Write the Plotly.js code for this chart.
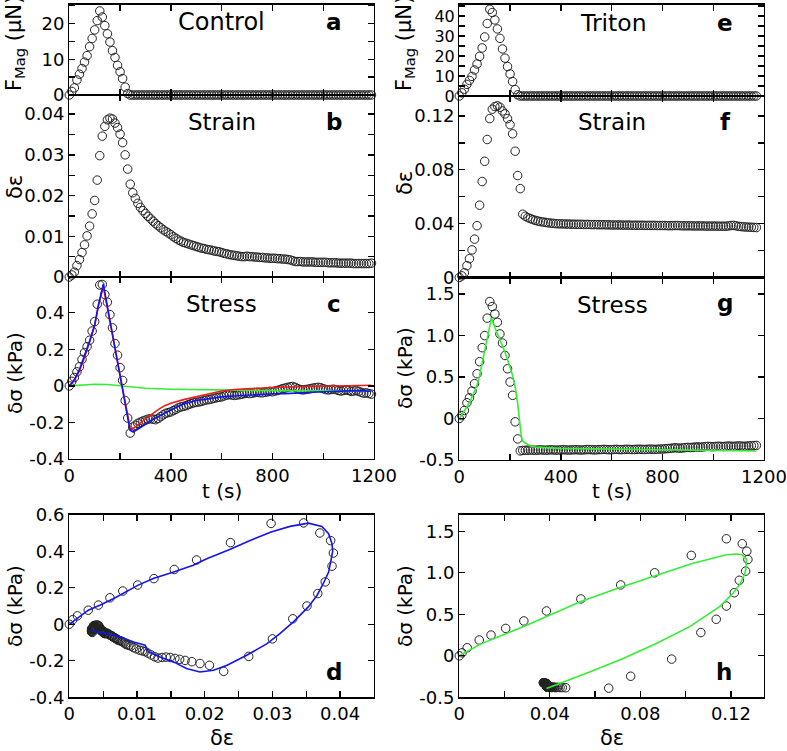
<!DOCTYPE html>
<html><head><meta charset="utf-8">
<script src="https://cdn.plot.ly/plotly-3.0.1.min.js"></script>
<style>html,body{margin:0;padding:0;background:#fff}#plot{width:787px;height:751px}</style>
</head><body><div id="plot"></div>
<script>
// ---------- Control (left column) ----------
const tC = [0,10,20,30,40,50,60,70,80,90,100,110,120,130,140,150,160,170,180,190,200,210,220,230,240,250,260,270,280,290,300,310,320,330,340,350,360,370,380,390,400,410,420,430,440,450,460,470,480,490,500,510,520,530,540,550,560,570,580,590,600,610,620,630,640,650,660,670,680,690,700,710,720,730,740,750,760,770,780,790,800,810,820,830,840,850,860,870,880,890,900,910,920,930,940,950,960,970,980,990,1000,1010,1020,1030,1040,1050,1060,1070,1080,1090,1100,1110,1120,1130,1140,1150,1160,1170,1180,1190];
const forceC = [0,1.0,2.0,4.2,5.8,7.4,9.2,11.0,13.5,15.8,18.2,20.8,23.5,21.8,19.4,17.1,14.8,12.4,10.5,8.3,6.5,4.6,2.2,0.4,
0,0,0,0,0,0,0,0,0,0,0,0,0,0,0,0,0,0,0,0,0,0,0,0,0,0,0,0,0,0,0,0,0,0,0,0,0,0,0,0,0,0,0,0,0,0,0,0,
0,0,0,0,0,0,0,0,0,0,0,0,0,0,0,0,0,0,0,0,0,0,0,0,0,0,0,0,0,0,0,0,0,0,0,0,0,0,0,0,0,0,0,0,0,0,0,0];
const strainC = [0,0.0005,0.0012,0.0028,0.0043,0.0060,0.0079,0.0101,0.0125,0.0155,
0.0188,0.0238,0.0298,0.0346,0.0370,0.0386,0.0390,0.0388,0.0378,0.0367,
0.0351,0.0330,0.0300,0.0265,0.0228,0.0207,0.0193,0.0181,0.0171,0.0163,
0.0156,0.0149,0.0143,0.0137,0.0131,0.0126,0.0121,0.0116,0.0112,0.0108,
0.0104,0.0099,0.0095,0.0091,0.0088,0.0085,0.0083,0.0081,0.0079,0.0077,
0.0075,0.0073,0.0071,0.0070,0.0068,0.0067,0.0066,0.0064,0.0063,0.0062,
0.0060,0.0058,0.0057,0.0055,0.0054,0.0053,0.0052,0.0051,0.0050,0.0050,
0.0051,0.0050,0.0050,0.0049,0.0049,0.0048,0.0048,0.0047,0.0047,0.0046,
0.0046,0.0046,0.0045,0.0045,0.0044,0.0044,0.0043,0.0042,0.0040,0.0038,
0.0038,0.0038,0.0037,0.0037,0.0037,0.0037,0.0037,0.0036,0.0036,0.0036,
0.0036,0.0036,0.0035,0.0035,0.0035,0.0035,0.0034,0.0034,0.0034,0.0034,
0.0034,0.0034,0.0033,0.0033,0.0033,0.0033,0.0033,0.0033,0.0033,0.0034];
const stressC = [0,0.025,0.046,0.077,0.105,0.145,0.182,0.215,0.25,0.3,
0.352,0.447,0.552,0.555,0.5,0.458,0.39,0.318,0.232,0.168,
0.1,0.03,-0.08,-0.176,-0.258,-0.225,-0.215,-0.205,-0.198,-0.192,
-0.187,-0.182,-0.18,-0.182,-0.185,-0.178,-0.168,-0.158,-0.15,-0.146,
-0.142,-0.135,-0.128,-0.12,-0.115,-0.112,-0.108,-0.102,-0.097,-0.093,
-0.09,-0.088,-0.085,-0.08,-0.077,-0.075,-0.072,-0.068,-0.065,-0.062,
-0.06,-0.055,-0.05,-0.048,-0.05,-0.052,-0.05,-0.048,-0.045,-0.042,
-0.04,-0.042,-0.04,-0.037,-0.035,-0.037,-0.038,-0.035,-0.033,-0.03,
-0.032,-0.028,-0.025,-0.02,-0.015,-0.012,-0.008,-0.005,-0.003,-0.008,
-0.015,-0.02,-0.022,-0.02,-0.018,-0.015,-0.012,-0.01,-0.008,-0.01,
-0.015,-0.02,-0.022,-0.02,-0.018,-0.02,-0.025,-0.028,-0.025,-0.022,
-0.025,-0.03,-0.028,-0.025,-0.03,-0.035,-0.04,-0.038,-0.042,-0.045];
// model curves in panel c
const tBlueC = [0,20,40,60,80,100,115,134,150,200,239,252,270,285,300,324,350,376,400,429,455,500,550,600,650,700,800,850,900,950,1000,1100,1150,1190];
const blueC  = [0,0.035,0.09,0.163,0.245,0.335,0.445,0.557,0.435,0.054,-0.243,-0.252,-0.238,-0.225,-0.21,-0.188,-0.168,-0.148,-0.132,-0.113,-0.097,-0.08,-0.068,-0.06,-0.055,-0.05,-0.043,-0.042,-0.038,-0.035,-0.032,-0.027,-0.026,-0.03];
const tRedC = [0,20,40,60,80,100,115,134,150,200,241,252,270,285,300,324,350,376,400,450,500,550,600,650,700,750,800,900,1000,1100,1190];
const redC  = [0,0.03,0.082,0.155,0.24,0.33,0.44,0.542,0.425,0.05,-0.239,-0.232,-0.21,-0.197,-0.18,-0.155,-0.13,-0.108,-0.095,-0.075,-0.058,-0.045,-0.028,-0.02,-0.015,-0.011,-0.009,-0.005,-0.002,0.001,0.004];
const tGreenC = [0,50,100,150,200,250,300,400,500,600,800,1000,1190];
const greenC  = [0,0.005,0.009,0.008,0.0,-0.008,-0.013,-0.018,-0.021,-0.023,-0.026,-0.027,-0.028];
// model loop in panel d
const loopStrainD = [0,0.0028,0.0045,0.0065,0.0101,0.0124,0.0154,0.0183,0.0203,0.0236,0.0267,0.0298,0.0326,0.0353,0.0373,0.0383,0.0388,0.0389,0.0387,0.0383,0.0375,0.0366,0.0353,0.0331,0.0311,0.0292,0.0262,0.0233,0.0213,0.0193,0.0173,0.0154,0.0134,0.0117,0.0112,0.0095,0.0075,0.0055,0.0040,0.0033];
const loopStressD = [0,0.077,0.104,0.14,0.213,0.25,0.286,0.323,0.359,0.408,0.459,0.505,0.536,0.554,0.536,0.496,0.441,0.40,0.359,0.286,0.222,0.159,0.095,0.013,-0.051,-0.106,-0.17,-0.224,-0.252,-0.261,-0.242,-0.206,-0.179,-0.151,-0.115,-0.097,-0.069,-0.051,-0.042,-0.033];

// ---------- Triton (right column) ----------
const tT = [0,10,20,30,40,50,60,70,80,90,100,110,120,130,140,150,160,170,180,190,200,210,220,230,240,250,260,270,280,290,300,310,320,330,340,350,360,370,380,390,400,410,420,430,440,450,460,470,480,490,500,510,520,530,540,550,560,570,580,590,600,610,620,630,640,650,660,670,680,690,700,710,720,730,740,750,760,770,780,790,800,810,820,830,840,850,860,870,880,890,900,910,920,930,940,950,960,970,980,990,1000,1010,1020,1030,1040,1050,1060,1070,1080,1090,1100,1110,1120,1130,1140,1150,1160,1170];
const forceT = [0,1.6,3.4,5.8,7.8,9.8,13.0,16.0,19.8,24.0,29.5,36.2,43.3,41.7,38.0,33.5,28.8,23.5,18.9,14.7,11.0,7.2,3.2,0.6,
0,0,0,0,0,0,0,0,0,0,0,0,0,0,0,0,0,0,0,0,0,0,0,0,0,0,0,0,0,0,0,0,0,0,0,0,0,0,0,0,0,0,0,0,0,0,0,
0,0,0,0,0,0,0,0,0,0,0,0,0,0,0,0,0,0,0,0,0,0,0,0,0,0,0,0,0,0,0,0,0,0,0,0,0,0,0,0,0,0,0,0,0,0,0];
const strainT = [0,0.0012,0.0035,0.0088,0.0140,0.0205,0.0285,0.0385,0.0537,0.0713,
0.0863,0.1025,0.1180,0.1250,0.1270,0.1275,0.1265,0.1237,0.1215,0.1180,
0.1135,0.1067,0.0938,0.0757,0.0660,0.0470,0.0455,0.0445,0.0437,0.0430,
0.0424,0.0419,0.0415,0.0412,0.0409,0.0406,0.0404,0.0402,0.0400,0.0399,
0.0398,0.0398,0.0397,0.0397,0.0396,0.0396,0.0395,0.0395,0.0395,0.0394,
0.0394,0.0394,0.0393,0.0393,0.0393,0.0392,0.0392,0.0392,0.0391,0.0391,
0.0390,0.0390,0.0390,0.0390,0.0389,0.0389,0.0389,0.0389,0.0388,0.0388,
0.0388,0.0388,0.0388,0.0387,0.0387,0.0387,0.0387,0.0387,0.0386,0.0386,
0.0386,0.0386,0.0385,0.0385,0.0385,0.0386,0.0386,0.0385,0.0384,0.0384,
0.0384,0.0384,0.0383,0.0383,0.0383,0.0383,0.0383,0.0382,0.0382,0.0382,
0.0382,0.0382,0.0381,0.0381,0.0381,0.0381,0.0383,0.0386,0.0387,0.0384,
0.0380,0.0378,0.0376,0.0375,0.0374,0.0373,0.0372,0.0371];
const stressT = [0,0.036,0.097,0.19,0.25,0.33,0.42,0.54,0.685,0.854,
1.0,1.21,1.41,1.35,1.26,1.16,1.02,0.91,0.76,0.6,
0.44,0.28,-0.04,-0.246,-0.39,-0.385,-0.383,-0.382,-0.38,-0.381,
-0.383,-0.38,-0.378,-0.38,-0.382,-0.38,-0.377,-0.379,-0.381,-0.38,
-0.378,-0.376,-0.378,-0.38,-0.379,-0.377,-0.376,-0.378,-0.38,-0.378,
-0.375,-0.374,-0.376,-0.378,-0.377,-0.375,-0.374,-0.372,-0.374,-0.376,
-0.375,-0.373,-0.372,-0.374,-0.375,-0.373,-0.371,-0.372,-0.374,-0.373,
-0.371,-0.37,-0.372,-0.373,-0.371,-0.369,-0.37,-0.372,-0.37,-0.368,
-0.367,-0.365,-0.362,-0.36,-0.356,-0.352,-0.355,-0.358,-0.354,-0.35,
-0.348,-0.35,-0.347,-0.344,-0.342,-0.345,-0.342,-0.338,-0.336,-0.338,
-0.34,-0.337,-0.334,-0.336,-0.338,-0.335,-0.332,-0.334,-0.336,-0.333,
-0.33,-0.332,-0.335,-0.333,-0.33,-0.328,-0.326,-0.324];
// model curve in panel g
const tGreenT = [0,10,20,30,40,50,60,70,80,90,100,110,120,127,140,150,160,170,180,190,200,210,220,230,240,245,250,258,280,300,400,500,600,700,800,900,1000,1100,1170];
const greenT  = [0,0.05,0.1,0.145,0.19,0.26,0.32,0.40,0.52,0.67,0.83,0.98,1.12,1.216,1.1,1.03,0.95,0.88,0.8,0.71,0.62,0.52,0.38,0.18,-0.1,-0.232,-0.27,-0.292,-0.33,-0.345,-0.36,-0.365,-0.37,-0.375,-0.378,-0.382,-0.385,-0.39,-0.392];
// model loop in panel h
const loopStrainH = [0,0.0094,0.029,0.04,0.0537,0.0713,0.0863,0.1025,0.118,0.1224,0.125,0.1268,0.1268,0.126,0.1238,0.1209,0.115,0.1018,0.087,0.0724,0.0576,0.0459,0.0385];
const loopStressH = [0,0.141,0.359,0.492,0.653,0.827,0.964,1.109,1.218,1.226,1.218,1.165,1.077,0.976,0.855,0.754,0.593,0.351,0.149,-0.032,-0.194,-0.315,-0.395];

// ---------- tick labels ----------
const tTicks = [0,400,800,1200], tTickText = ['0','400','800','1200'];
const fTicksC = [0,10,20], fTickTextC = ['0','10','20'];
const fTicksT = [0,10,20,30,40], fTickTextT = ['0','10','20','30','40'];
const eTicksC = [0,0.01,0.02,0.03,0.04], eTickTextC = ['0','0.01','0.02','0.03','0.04'];
const eTicksT = [0,0.04,0.08,0.12], eTickTextT = ['0','0.04','0.08','0.12'];
const sTicksC = [-0.4,-0.2,0,0.2,0.4], sTickTextC = ['-0.4','-0.2','0','0.2','0.4'];
const sTicksD = [-0.4,-0.2,0,0.2,0.4,0.6], sTickTextD = ['-0.4','-0.2','0','0.2','0.4','0.6'];
const sTicksT = [-0.5,0,0.5,1.0,1.5], sTickTextT = ['-0.5','0','0.5','1.0','1.5'];

// ---------- layout helpers ----------
const W = 787, H = 751;
const FONT = 'DejaVu Sans, sans-serif';
const xdom = (a,b) => [a/W, b/W];
const ydom = (top,bot) => [1-bot/H, 1-top/H];
const LX = xdom(69.3, 374), RX = xdom(459.3, 764);
function ax(o){
  const base = {showline:true, linecolor:'#000', linewidth:1.3, mirror:'allticks', ticks:'inside', ticklen:6, tickwidth:1.3, tickcolor:'#000',
    showgrid:false, zeroline:false, tickfont:{family:FONT, size:18, color:'#000'}, tickmode:'array', fixedrange:true};
  return Object.assign(base, o);
}
function minor(d){ return {dtick:d, ticks:'inside', ticklen:6, tickwidth:1.3, tickcolor:'#000', showgrid:false}; }

const mk = {symbol:'circle-open', size:8.5, color:'#222', line:{width:1, color:'#222'}};
function pts(x,y,xa,ya){ return {x:x, y:y, xaxis:xa, yaxis:ya, type:'scatter', mode:'markers', marker:mk, cliponaxis:false, hoverinfo:'skip'}; }
function ln(x,y,xa,ya,c){ return {x:x, y:y, xaxis:xa, yaxis:ya, type:'scatter', mode:'lines', line:{color:c, width:1.6}, hoverinfo:'skip'}; }

const BLUE = '#1414f0', RED = '#f01a1a', GREEN = '#33ee33';

const data = [
  pts(tC, forceC, 'x', 'y'),
  pts(tC, strainC, 'x2', 'y2'),
  pts(tC, stressC, 'x3', 'y3'),
  ln(tGreenC, greenC, 'x3', 'y3', GREEN),
  ln(tRedC, redC, 'x3', 'y3', RED),
  ln(tBlueC, blueC, 'x3', 'y3', BLUE),
  pts(strainC, stressC, 'x4', 'y4'),
  ln(loopStrainD, loopStressD, 'x4', 'y4', BLUE),
  pts(tT, forceT, 'x5', 'y5'),
  pts(tT, strainT, 'x6', 'y6'),
  pts(tT, stressT, 'x7', 'y7'),
  ln(tGreenT, greenT, 'x7', 'y7', GREEN),
  pts(strainT, stressT, 'x8', 'y8'),
  ln(loopStrainH, loopStressH, 'x8', 'y8', GREEN)
];

const tx = (dom, anchor, labels) => ax({domain:dom, anchor:anchor, range:[0,1200], tickvals:tTicks, ticktext:tTickText, showticklabels:labels, minor:minor(200)});

const layout = {
  width:W, height:H, margin:{l:0,r:0,t:0,b:0}, paper_bgcolor:'#fff', plot_bgcolor:'rgba(0,0,0,0)', showlegend:false,
  xaxis:  tx(LX,'y',false),
  yaxis:  ax({domain:ydom(4.5,95), anchor:'x', range:[0,25.3], tickvals:fTicksC, ticktext:fTickTextC, minor:minor(5)}),
  xaxis2: tx(LX,'y2',false),
  yaxis2: ax({domain:ydom(95,277), anchor:'x2', range:[0,0.0447], tickvals:eTicksC, ticktext:eTickTextC, minor:minor(0.005)}),
  xaxis3: tx(LX,'y3',true),
  yaxis3: ax({domain:ydom(277,459), anchor:'x3', range:[-0.4,0.596], tickvals:sTicksC, ticktext:sTickTextC}),
  xaxis4: ax({domain:LX, anchor:'y4', range:[0,0.045], tickvals:eTicksC, ticktext:eTickTextC, minor:minor(0.005)}),
  yaxis4: ax({domain:ydom(514.7,697.3), anchor:'x4', range:[-0.4,0.6], tickvals:sTicksD, ticktext:sTickTextD}),
  xaxis5: tx(RX,'y5',false),
  yaxis5: ax({domain:ydom(4.7,96), anchor:'x5', range:[0,45.6], tickvals:fTicksT, ticktext:fTickTextT, minor:minor(5), tickfont:{family:FONT,size:16,color:'#000'}}),
  xaxis6: tx(RX,'y6',false),
  yaxis6: ax({domain:ydom(96,277.5), anchor:'x6', range:[0,0.1348], tickvals:eTicksT, ticktext:eTickTextT, minor:minor(0.02)}),
  xaxis7: tx(RX,'y7',true),
  yaxis7: ax({domain:ydom(277.5,460), anchor:'x7', range:[-0.5,1.70], tickvals:sTicksT, ticktext:sTickTextT}),
  xaxis8: ax({domain:RX, anchor:'y8', range:[0,0.1346], tickvals:eTicksT, ticktext:eTickTextT, minor:minor(0.02)}),
  yaxis8: ax({domain:ydom(514.7,697.3), anchor:'x8', range:[-0.5,1.70], tickvals:sTicksT, ticktext:sTickTextT}),
  shapes: [
    {type:'line', xref:'paper', yref:'paper', x0:69.3/W, x1:374/W, y0:1-95/H, y1:1-95/H, line:{color:'#000', width:2.2}},
    {type:'line', xref:'paper', yref:'paper', x0:69.3/W, x1:374/W, y0:1-277/H, y1:1-277/H, line:{color:'#000', width:2.2}},
    {type:'line', xref:'paper', yref:'paper', x0:459.3/W, x1:764/W, y0:1-96/H, y1:1-96/H, line:{color:'#000', width:2.2}},
    {type:'line', xref:'paper', yref:'paper', x0:459.3/W, x1:764/W, y0:1-277.5/H, y1:1-277.5/H, line:{color:'#000', width:2.2}}
  ],
  annotations: []
};

function note(text, x, y, size, opts){
  layout.annotations.push(Object.assign({text:text, xref:'paper', yref:'paper', x:x/W, y:1-y/H, xanchor:'center', yanchor:'middle',
    showarrow:false, font:{family:FONT, size:size, color:'#000'}}, opts||{}));
}
// panel texts
note('Control', 222, 22.5, 24);
note('<b>a</b>', 334, 22.5, 23);
note('Strain', 222, 122, 23);
note('<b>b</b>', 334, 122, 23);
note('Stress', 222, 304, 23);
note('<b>c</b>', 334, 304, 23);
note('<b>d</b>', 334, 672, 23);
note('Triton', 613, 23.5, 23.5);
note('<b>e</b>', 725, 23.5, 23);
note('Strain', 612, 122.5, 23);
note('<b>f</b>', 725, 122, 23);
note('Stress', 612, 305, 23);
note('<b>g</b>', 725, 303, 23);
note('<b>h</b>', 724, 672, 23);
// axis titles
const rot = {textangle:-90};
note('F<sub>Mag</sub> (μN)', 15, 44, 21, rot);
note('δε', 15, 187, 21, rot);
note('δσ (kPa)', 15, 373, 20, rot);
note('δσ (kPa)', 15, 606, 20, rot);
note('t (s)', 222, 491, 20);
note('δε', 222, 738, 21);
note('F<sub>Mag</sub> (μN)', 405, 44, 21, rot);
note('δε', 405, 183, 21, rot);
note('δσ (kPa)', 405, 368, 20, rot);
note('δσ (kPa)', 405, 606, 20, rot);
note('t (s)', 612, 491, 20);
note('δε', 612, 738, 21);

Plotly.newPlot('plot', data, layout, {displayModeBar:false, staticPlot:true});
</script>
</body></html>
